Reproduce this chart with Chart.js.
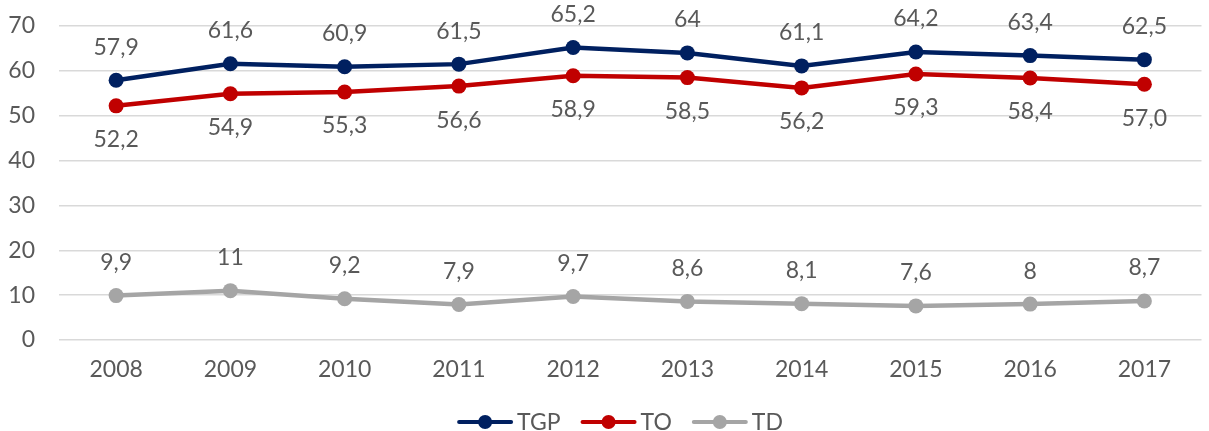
<!DOCTYPE html>
<html>
<head>
<meta charset="utf-8">
<script src="https://cdn.jsdelivr.net/npm/chart.js@4/dist/chart.umd.min.js"></script>
<style>
  html, body { margin: 0; padding: 0; background: #fff; }
  #wrap { width: 1209px; height: 431px; }
</style>
</head>
<body>
<div id="wrap"><canvas id="wykres"></canvas></div>
<script>
const lata = ['2008', '2009', '2010', '2011', '2012', '2013', '2014', '2015', '2016', '2017'];
const tgp = [57.9, 61.6, 60.9, 61.5, 65.2, 64, 61.1, 64.2, 63.4, 62.5];
const to = [52.2, 54.9, 55.3, 56.6, 58.9, 58.5, 56.2, 59.3, 58.4, 57.0];
const td = [9.9, 11, 9.2, 7.9, 9.7, 8.6, 8.1, 7.6, 8, 8.7];
const yTicks = [0, 10, 20, 30, 40, 50, 60, 70];

const FONT = 'Lato, "Open Sans", sans-serif';
const ROZMIAR = 23;
const SZARY = '#595959';

// etykiety danych (bez wtyczki datalabels)
const etykiety = {
  id: 'etykiety',
  afterDatasetsDraw(chart) {
    const ctx = chart.ctx;
    ctx.save();
    ctx.font = ROZMIAR + 'px ' + FONT;
    ctx.fillStyle = SZARY;
    ctx.textAlign = 'center';
    ctx.textBaseline = 'middle';
    chart.data.datasets.forEach((ds, i) => {
      const meta = chart.getDatasetMeta(i);
      meta.data.forEach((p, j) => {
        const v = ds.data[j];
        const txt = (ds.stale ? v.toFixed(1) : String(v)).replace('.', ',');
        ctx.fillText(txt, p.x, p.y + ds.przesuniecie);
      });
    });
    ctx.restore();
  }
};

// legenda rysowana recznie: linia z punktem + tekst
const legenda = {
  id: 'legenda',
  afterDraw(chart) {
    const ctx = chart.ctx;
    ctx.save();
    ctx.font = ROZMIAR + 'px ' + FONT;
    ctx.textBaseline = 'middle';
    const y = 422;
    const dl = 56, odstep = 4, przerwa = 20;
    const pozycje = chart.data.datasets.map(ds => ctx.measureText(ds.label).width);
    const razem = pozycje.reduce((a, w) => a + dl + odstep + w, 0) + przerwa * (pozycje.length - 1);
    let x = 620 - razem / 2;
    chart.data.datasets.forEach((ds, i) => {
      ctx.strokeStyle = ds.borderColor;
      ctx.lineWidth = 4;
      ctx.lineCap = 'round';
      ctx.beginPath();
      ctx.moveTo(x + 2, y);
      ctx.lineTo(x + dl - 2, y);
      ctx.stroke();
      ctx.fillStyle = ds.borderColor;
      ctx.beginPath();
      ctx.arc(x + dl / 2, y, 7, 0, Math.PI * 2);
      ctx.fill();
      ctx.fillStyle = SZARY;
      ctx.textAlign = 'left';
      ctx.fillText(ds.label, x + dl + odstep, y + 1);
      x += dl + odstep + pozycje[i] + przerwa;
    });
    ctx.restore();
  }
};

const seria = (label, data, kolor, przesuniecie, stale) => ({
  label, data, przesuniecie, stale,
  borderColor: kolor,
  backgroundColor: kolor,
  borderWidth: 4.5,
  pointRadius: 7.5,
  pointHoverRadius: 7.5,
  pointBorderWidth: 0,
  tension: 0
});

const ctx = document.getElementById('wykres').getContext('2d');
new Chart(ctx, {
  type: 'line',
  data: {
    labels: lata,
    datasets: [
      seria('TGP', tgp, '#002060', -33, false),
      seria('TO', to, '#C00000', 34, true),
      seria('TD', td, '#A5A5A5', -33, false)
    ]
  },
  options: {
    responsive: true,
    maintainAspectRatio: false,
    animation: false,
    layout: { padding: { top: 26, bottom: 41, left: 0, right: 0 } },
    plugins: {
      legend: { display: false },
      tooltip: { enabled: false }
    },
    scales: {
      x: {
        offset: true,
        grid: { display: false, drawTicks: false },
        border: { display: false },
        ticks: { color: SZARY, font: { size: ROZMIAR, family: FONT }, padding: 16, maxRotation: 0 },
        afterFit: s => { s.height = 50; }
      },
      y: {
        min: 0,
        max: 70,
        afterBuildTicks: s => { s.ticks = yTicks.map(v => ({ value: v })); },
        grid: { color: '#D9D9D9', lineWidth: 1.5, drawTicks: false },
        border: { display: false },
        ticks: { color: SZARY, font: { size: ROZMIAR, family: FONT }, padding: 24 },
        afterFit: s => { s.width = 59; s.paddingTop = 0; s.paddingBottom = 0; }
      }
    }
  },
  plugins: [etykiety, legenda]
});
</script>
</body>
</html>
